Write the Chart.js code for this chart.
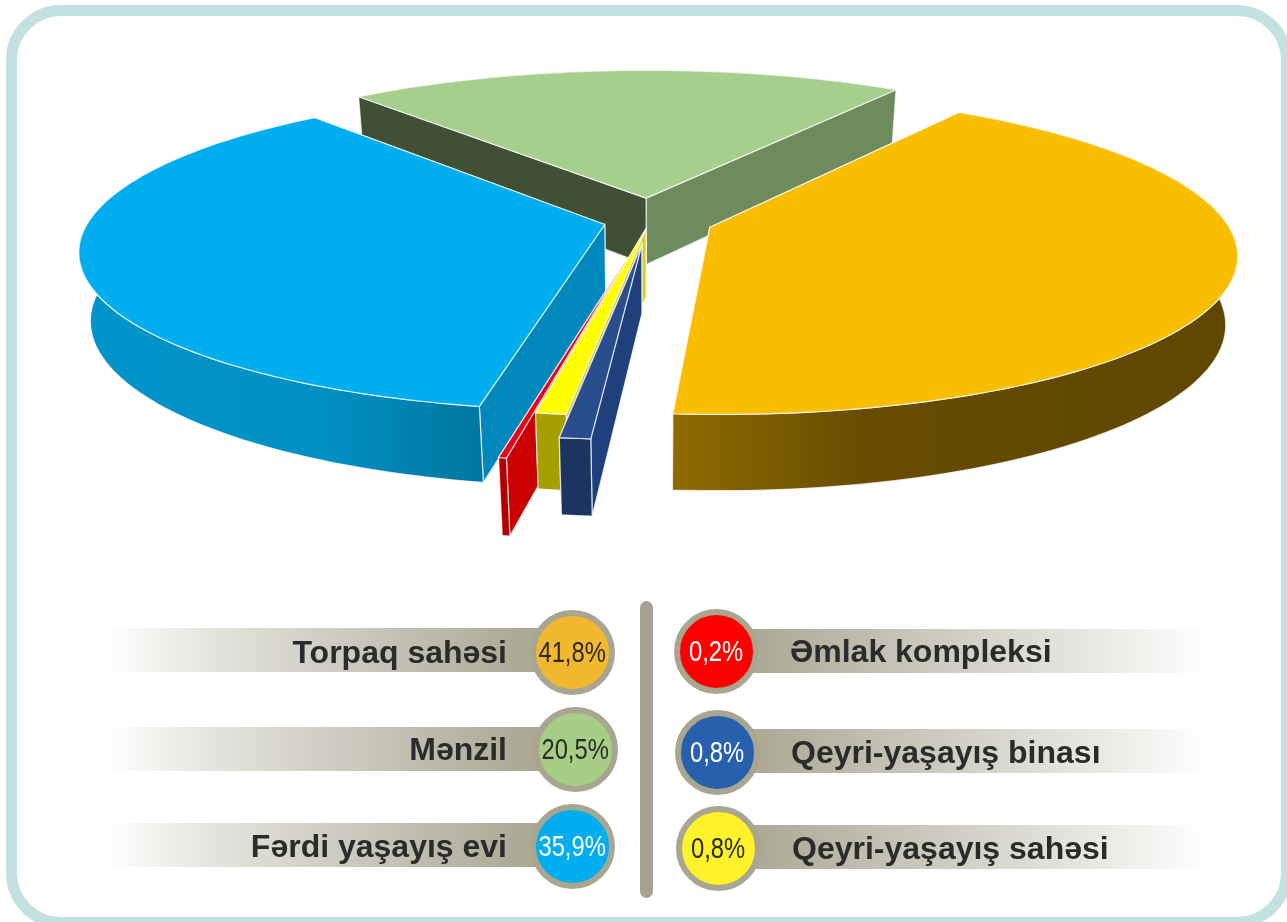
<!DOCTYPE html>
<html>
<head>
<meta charset="utf-8">
<script src="https://cdn.jsdelivr.net/npm/chart.js@4"></script>
<style>
    html, body { margin: 0; padding: 0; width: 1287px; height: 922px; overflow: hidden; background: #fff; }
    #frame { position: absolute; left: 6px; top: 5px; width: 1286px; height: 923px; box-sizing: border-box;
             border: 11px solid #c3e1e1; border-radius: 55px; }
    #pie { position: absolute; left: 0; top: 0; }
    #divider { position: absolute; left: 640px; top: 601px; width: 13px; height: 297px; border-radius: 7px; background: #a5a28f; }
    .bar { position: absolute; height: 44px; }
    .bar.left { left: 105px; width: 440px; background: linear-gradient(to right, rgba(168,165,144,0), #e4e3dd 25%, #a8a590); }
    .bar.right { width: 475px; background: linear-gradient(to left, rgba(168,165,144,0), #e4e3dd 30%, #a8a590); }
    .dot { position: absolute; width: 85px; height: 85px; box-sizing: border-box; border: 6px solid #a8a590; border-radius: 50%;
           display: flex; align-items: center; justify-content: center; }
    .dot span { font: 29px "Liberation Sans", sans-serif; transform: scaleX(0.82); white-space: nowrap; }
    .name { position: absolute; font: bold 32px/36px "Liberation Sans", sans-serif; color: #2b2b2b; white-space: nowrap; }
</style>
</head>
<body>
<div id="frame"></div>
<canvas id="pie" width="1287" height="922"></canvas>
<div id="divider"></div>
<div id="legend"></div>
<script>
const categories = ['Torpaq sahəsi', 'Qeyri-yaşayış binası', 'Qeyri-yaşayış sahəsi', 'Əmlak kompleksi', 'Fərdi yaşayış evi', 'Mənzil'];
const shares = [41.8, 0.8, 0.8, 0.2, 35.9, 20.5];
const explode = [50, 62, 20, 102, 37, 62];

const topColors = ['#f9be00', '#2a4d8e', '#ffff00', '#e8001a', '#00aeef', '#a6ce8c'];
const startFaceColors = ['#8a6a00', '#20407d', '#d4d030', '#cc0000', '#0088bd', '#3f5035'];
const endFaceColors = ['#8a6a00', '#20407d', '#d4d030', '#cc0000', '#0088bd', '#6e8b5e'];
const wallStops = [
    ['#8f6c00', '#674c00', '#604700'],
    ['#1b3460', '#1b3460', '#1b3460'],
    ['#a5a000', '#a5a000', '#a5a000'],
    ['#b00000', '#b00000', '#b00000'],
    ['#0094ca', '#008fc2', '#00769f'],
    ['#3f5035', '#3f5035', '#3f5035']
];
// back to front
const paintOrder = [5, 4, 0, 3, 2, 1];

// legend rows
const legendColors = { 'Torpaq sahəsi': '#f2b82e', 'Mənzil': '#a6ce84', 'Fərdi yaşayış evi': '#00aeef',
    'Əmlak kompleksi': '#ff0000', 'Qeyri-yaşayış binası': '#2761ae', 'Qeyri-yaşayış sahəsi': '#fff22a' };
const legendInk = { 'Fərdi yaşayış evi': '#fff', 'Əmlak kompleksi': '#fff', 'Qeyri-yaşayış binası': '#fff' };
const leftRows = [['Torpaq sahəsi', 652, 628], ['Mənzil', 749, 727], ['Fərdi yaşayış evi', 846, 823]];
const rightRows = [['Əmlak kompleksi', 651, 629], ['Qeyri-yaşayış binası', 752, 729], ['Qeyri-yaşayış sahəsi', 848, 825]];

// perspective of the disc: u, v on the plane in radii, z 0 at the top, 1 at the bottom
const view = { cx: 650, cy: 221, a: 516, b: 155, k: 0.16, d: 69, h: 0.02 };

function project(u, v, z) {
    const w = 1 - view.k * v + view.h * z;
    return { x: view.cx + view.a * u / w, y: view.cy + (view.b * v + view.d * z) / w };
}

function trace(ctx, pts) {
    ctx.beginPath();
    pts.forEach((p, i) => i ? ctx.lineTo(p.x, p.y) : ctx.moveTo(p.x, p.y));
    ctx.closePath();
}

function paint(ctx, pts, fill) {
    trace(ctx, pts);
    ctx.fillStyle = fill;
    ctx.fill();
    ctx.lineWidth = 1.2;
    ctx.strokeStyle = 'rgba(255,255,255,0.75)';
    ctx.stroke();
}

const pie3d = {
    id: 'pie3d',
    // the arcs keep the angles and offsets chart.js worked out, only the drawing is projected
    beforeDatasetsDraw(chart) {
        const ctx = chart.ctx;
        const arcs = chart.getDatasetMeta(0).data;
        paintOrder.forEach(i => {
            const arc = arcs[i];
            const { startAngle, endAngle, outerRadius } = arc.getProps(['startAngle', 'endAngle', 'outerRadius']);
            const off = arc.options.offset / outerRadius;
            const mid = (startAngle + endAngle) / 2;
            const ou = Math.cos(mid) * off, ov = Math.sin(mid) * off;
            const steps = Math.max(2, Math.ceil((endAngle - startAngle) * 40));
            const rim = z => {
                const pts = [];
                for (let s = 0; s <= steps; s++) {
                    const t = startAngle + (endAngle - startAngle) * s / steps;
                    pts.push(project(ou + Math.cos(t), ov + Math.sin(t), z));
                }
                return pts;
            };
            const top = rim(0), low = rim(1);
            const apex0 = project(ou, ov, 0), apex1 = project(ou, ov, 1);

            const xs = low.map(p => p.x);
            const grad = ctx.createLinearGradient(Math.min(...xs), 0, Math.max(...xs), 0);
            const stops = wallStops[i];
            grad.addColorStop(0, stops[0]);
            grad.addColorStop(i === 0 ? 0.35 : 0.6, stops[1]);
            grad.addColorStop(1, stops[2]);
            const wall = top.concat(low.slice().reverse());
            const startFace = [apex0, top[0], low[0], apex1];
            const endFace = [apex0, top[steps], low[steps], apex1];

            // slices at the back show their walls from inside, so the rim goes under the faces
            const atBack = Math.sin(mid) < -0.5;
            if (atBack) paint(ctx, wall, grad);
            if (Math.cos(mid) < 0) {
                paint(ctx, endFace, endFaceColors[i]);
                paint(ctx, startFace, startFaceColors[i]);
            } else {
                paint(ctx, startFace, startFaceColors[i]);
                paint(ctx, endFace, endFaceColors[i]);
            }
            if (!atBack) paint(ctx, wall, grad);
            paint(ctx, [apex0].concat(top), topColors[i]);
        });
        return false;
    }
};

new Chart(document.getElementById('pie').getContext('2d'), {
    type: 'pie',
    data: {
        labels: categories,
        datasets: [{ data: shares, offset: explode, backgroundColor: topColors, borderWidth: 0 }]
    },
    options: {
        responsive: false,
        animation: false,
        events: [],
        rotation: 34,
        plugins: { legend: { display: false }, tooltip: { enabled: false } }
    },
    plugins: [pie3d]
});

// legend
const legend = document.getElementById('legend');

function addEl(cls, css, text) {
    const el = document.createElement('div');
    el.className = cls;
    Object.assign(el.style, css);
    if (text) el.textContent = text;
    legend.appendChild(el);
    return el;
}

function addDot(name, cx, cy) {
    const dot = addEl('dot', { left: (cx - 42.5) + 'px', top: (cy - 42.5) + 'px', background: legendColors[name] });
    const label = document.createElement('span');
    label.textContent = shares[categories.indexOf(name)].toFixed(1).replace('.', ',') + '%';
    label.style.color = legendInk[name] || '#2b2b2b';
    dot.appendChild(label);
}

leftRows.forEach(([name, y, barTop], i) => {
    addEl('bar left', { top: barTop + 'px' });
    addEl('name', { right: (1287 - 507) + 'px', top: (y - 18) + 'px' }, name);
    addDot(name, i === 1 ? 575 : 572, y);
});
rightRows.forEach(([name, y, barTop], i) => {
    addEl('bar right', { top: barTop + 'px', left: '735px' });
    addEl('name', { left: (790 + i) + 'px', top: (y - 18) + 'px' }, name);
    addDot(name, 716 + i, y);
});
</script>
</body>
</html>
